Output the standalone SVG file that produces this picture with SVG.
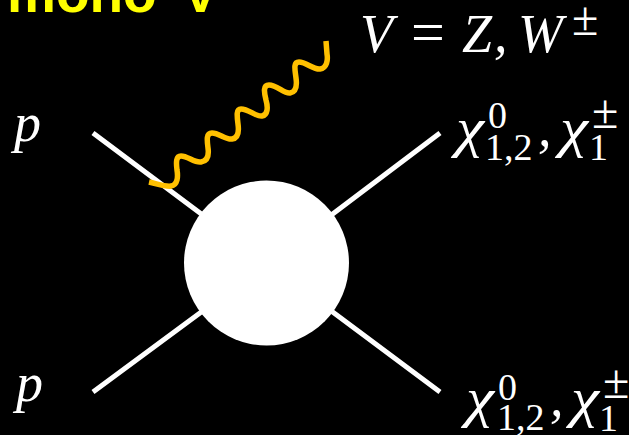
<svg xmlns="http://www.w3.org/2000/svg" width="629" height="435" viewBox="0 0 629 435">
<style>
.m{font-family:"Liberation Serif","DejaVu Serif",serif;fill:#fff}
.i{font-style:italic;font-size:54px}
.s{font-size:38px}
.b{font-size:48px}
.l{stroke:#fff;stroke-width:5;fill:none}
</style>
<rect width="629" height="435" fill="#000"/>
<text id="title" x="7" y="12" font-family="'Liberation Sans',Arial,sans-serif" font-weight="700" font-size="55" word-spacing="10" fill="#ffff00">mono V</text>
<g id="connectors">
<path class="l" d="M93 133L204 216M93 392L204 310M440 133L330 216M440 392L330 310"/>
<path fill="none" stroke="#ffc000" stroke-width="5.500" d="M149 182C158 184 166 187 171 186C178 185 178 176 177 170C176 162 176 156 181 156C188 156 194 163 201 162C208 161 209 155 208 148C207 140 206 133 212 133C219 133 226 140 232 139C239 138 239 131 238 124C237 116 236 109 241 109C249 109 256 117 262 116C268 115 268 107 266 100C264 92 263 85 269 85C277 85 284 94 290 93C296 92 297 85 296 78C295 70 293 62 299 62C306 62 314 70 320 69C327 68 328 60 327 54L326 41"/>
</g>
<g id="blob"><circle cx="266.500" cy="263" r="82.500" fill="#fff"/></g>
<g id="label-p-top"><text class="m i" x="14" y="141">p</text></g>
<g id="label-p-bottom"><text class="m i" x="16" y="401">p</text></g>
<g id="label-v"><text class="m i" x="360" y="52">V</text><text class="m" font-size="60" x="411" y="52">=</text><text class="m i" x="462" y="52">Z</text><text class="m i" x="494" y="52">,</text><text class="m i" x="518" y="52">W</text><text class="m b" x="572" y="35">±</text></g>
<g id="label-chi-top"><text class="m i" x="456" y="146" textLength="28" lengthAdjust="spacingAndGlyphs">χ</text><text class="m s" x="488" y="128">0</text><text class="m s" x="485" y="160">1,2</text><text class="m i" x="538" y="146">,</text><text class="m i" x="560" y="146" textLength="28" lengthAdjust="spacingAndGlyphs">χ</text><text class="m b" x="592" y="128">±</text><text class="m s" x="589" y="160">1</text></g>
<g id="label-chi-bottom"><text class="m i" x="466" y="416" textLength="28" lengthAdjust="spacingAndGlyphs">χ</text><text class="m s" x="498" y="400">0</text><text class="m s" x="497" y="430">1,2</text><text class="m i" x="550" y="416">,</text><text class="m i" x="571" y="416" textLength="28" lengthAdjust="spacingAndGlyphs">χ</text><text class="m b" x="603" y="398">±</text><text class="m s" x="599" y="431">1</text></g>
</svg>
